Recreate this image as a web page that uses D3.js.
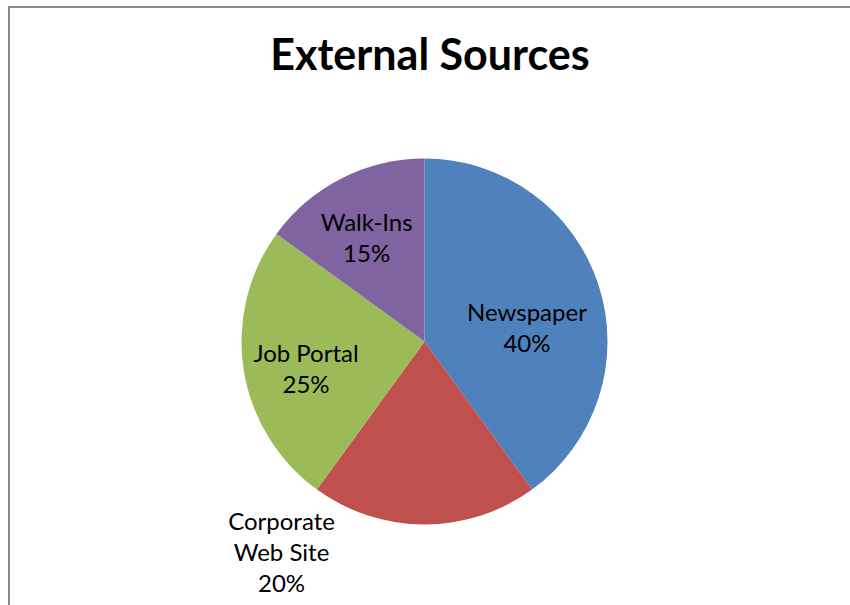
<!DOCTYPE html>
<html>
<head>
<meta charset="utf-8">
<script src="https://cdn.jsdelivr.net/npm/d3@7"></script>
<style>
  body { margin: 0; background: white; }
  text { font-family: Lato, "Open Sans", sans-serif; fill: #000; }
</style>
</head>
<body>
<svg id="chart" width="850" height="605"></svg>
<script>
// data
var categories = ["Newspaper", "Corporate Web Site", "Job Portal", "Walk-Ins"];
var shares = [40, 20, 25, 15];
var colors = ["#4F81BD", "#C0504D", "#9BBB59", "#8064A2"];
// label lines (Excel wraps the long one)
var labelLines = [["Newspaper"], ["Corporate", "Web Site"], ["Job Portal"], ["Walk-Ins"]];
// nudges from the slice centroid, like Excel's "best fit"
var labelNudge = [[-2, 29], [-143, 110], [-10, 19], [-8, 3]];

var svg = d3.select("#chart"),
	cx = 424.5,
	cy = 341.5,
	radius = 183;

// chart area border
svg.append("rect")
	.attr("x", 9).attr("y", 7)
	.attr("width", 900).attr("height", 700)
	.attr("fill", "white")
	.attr("stroke", "#8a8a8a")
	.attr("stroke-width", 2);

svg.append("text")
	.attr("x", 430)
	.attr("y", 70)
	.attr("text-anchor", "middle")
	.style("font-size", "43px")
	.style("font-weight", "bold")
	.text("External Sources");

var pie = d3.pie().sort(null).value(function (d) { return d; });
var arc = d3.arc().innerRadius(0).outerRadius(radius);
var labelArc = d3.arc().innerRadius(radius * 0.6).outerRadius(radius * 0.6);

var g = svg.append("g").attr("transform", "translate(" + cx + "," + cy + ")");
var arcs = pie(shares);

g.selectAll("path")
	.data(arcs)
	.enter().append("path")
	.attr("d", arc)
	.attr("fill", function (d, i) { return colors[i]; });

var lineH = 31;
var labels = g.selectAll("text.lbl")
	.data(arcs)
	.enter().append("text")
	.attr("class", "lbl")
	.attr("text-anchor", "middle")
	.style("font-size", "24px")
	.attr("transform", function (d, i) {
		var c = labelArc.centroid(d);
		return "translate(" + (c[0] + labelNudge[i][0]) + "," + (c[1] + labelNudge[i][1]) + ")";
	});

labels.each(function (d, i) {
	var lines = labelLines[i].concat([shares[i] + "%"]);
	var t = d3.select(this);
	var y0 = -(lines.length - 1) * lineH / 2;
	lines.forEach(function (s, k) {
		t.append("tspan").attr("x", 0).attr("y", y0 + k * lineH).text(s);
	});
});
</script>
</body>
</html>
